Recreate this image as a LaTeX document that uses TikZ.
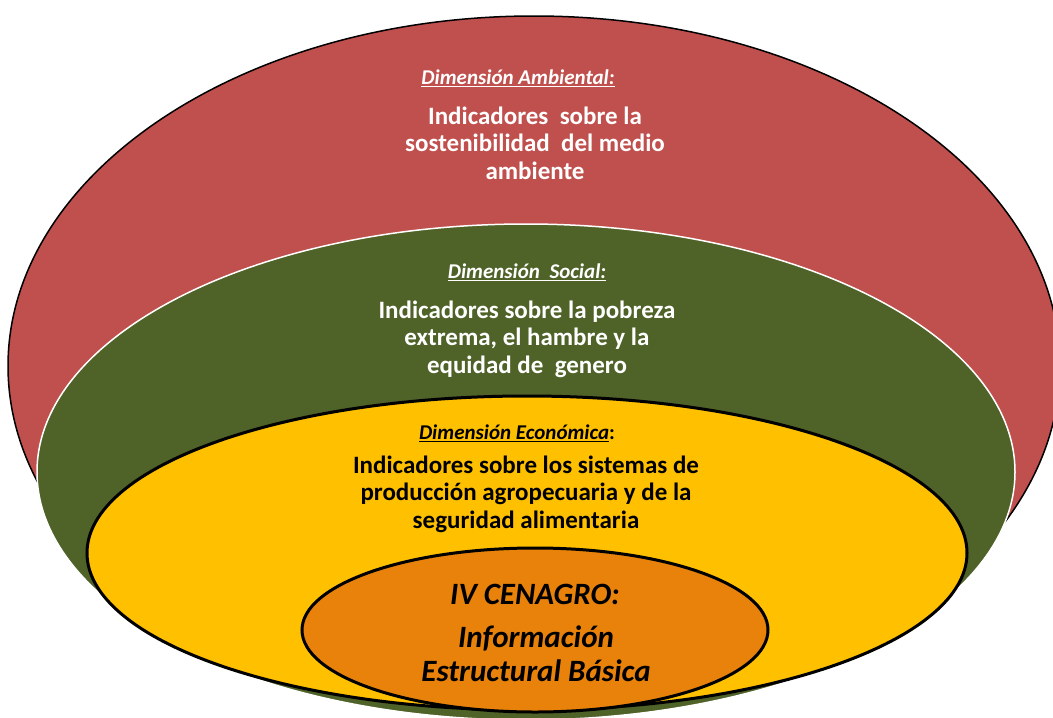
\documentclass[tikz,border=0pt]{standalone}
\usepackage{fontspec}
\setmainfont{Carlito}
\usepackage{tikz}

\definecolor{ambiental}{RGB}{192,80,77}
\definecolor{social}{RGB}{79,98,40}
\definecolor{economica}{RGB}{255,192,0}
\definecolor{cenagro}{RGB}{232,130,10}

\begin{document}
\begin{tikzpicture}[x=1pt, y=-1pt,
    titulo/.style={inner sep=0pt, font=\fontsize{21}{24}\selectfont\bfseries\itshape},
    cuerpo/.style={inner sep=0pt, align=center, font=\fontsize{25}{27.5}\selectfont\bfseries},
    centro/.style={inner sep=0pt, align=center, font=\fontsize{31}{34}\selectfont\bfseries\itshape}]
        \useasboundingbox (0, 0) rectangle (1053, 718);
        \clip (0, 0) rectangle (1053, 718);
        % anillos
        \draw [black, line width=1.5pt, fill=ambiental] (534, 366) ellipse [x radius=526pt, y radius=350pt];
        \draw [white, line width=1.5pt, fill=social] (526, 472) ellipse [x radius=489pt, y radius=248pt];
        \draw [black, line width=3pt, fill=economica] (527, 553) ellipse [x radius=440pt, y radius=157pt];
        \draw [black, line width=3pt, fill=cenagro] (535, 630) ellipse [x radius=233pt, y radius=82pt];
        % textos
        \node [titulo, white] (ambTitulo) at (518, 78) {\underline{Dimensión Ambiental:}};
        \node [cuerpo, white] (ambTexto) at (535, 143) {Indicadores\ \ sobre la\\sostenibilidad\ \ del medio\\ambiente};
        \node [titulo, white] (socTitulo) at (527, 272) {\underline{Dimensión\ \ Social:}};
        \node [cuerpo, white] (socTexto) at (527, 339) {Indicadores sobre la pobreza\\extrema, el hambre y la\\equidad de\ \ genero};
        \node [titulo, black] (ecoTitulo) at (517, 433) {\underline{Dimensión Económica}\upshape:};
        \node [cuerpo, black] (ecoTexto) at (526, 494) {Indicadores sobre los sistemas de\\producción agropecuaria y de la\\seguridad alimentaria};
        \node [centro, black] (cenTitulo) at (535, 594) {IV CENAGRO:};
        \node [centro, black] (cenTexto) at (536, 654) {Información\\Estructural Básica};
    \end{tikzpicture}
\end{document}
